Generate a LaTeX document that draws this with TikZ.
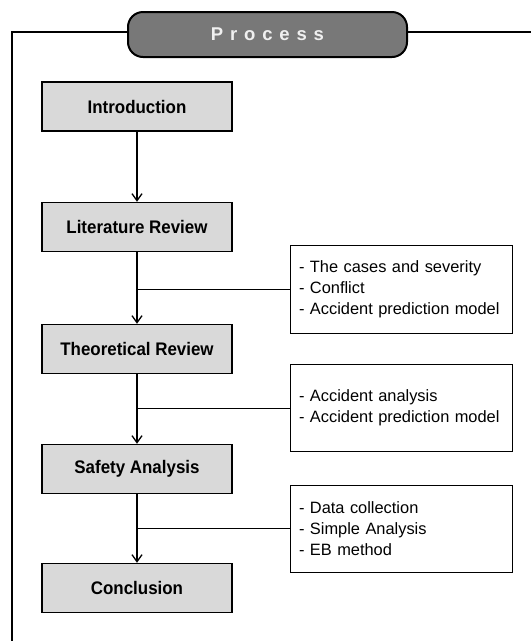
\documentclass[tikz,border=0pt]{standalone}
\usepackage{fontspec}
\usepackage{xcolor}
\setmainfont{Liberation Sans}
\newfontfamily\titlefont[LetterSpace=37]{Liberation Sans}
\newfontfamily\stagefont[FakeStretch=0.93]{Liberation Sans}
\usetikzlibrary{arrows.meta}
\definecolor{boxgray}{HTML}{D9D9D9}
\definecolor{titlegray}{HTML}{787878}
\tikzset{
  stagebox/.style={draw,line width=1.5pt,fill=boxgray,minimum width=190pt,minimum height=49pt,
    font=\stagefont\fontsize{18.2}{20}\selectfont\bfseries},
  notebox/.style={draw,line width=0.9pt,minimum width=222pt,minimum height=87pt,inner xsep=9pt,
    text width=204pt,align=left,font=\fontsize{16.4}{21}\selectfont},
  flow/.style={line width=1.3pt,-{Straight Barb[length=7pt,width=10pt,line width=1.3pt]}},
  tie/.style={line width=0.9pt}
}

\begin{document}
\begin{tikzpicture}[x=1pt,y=-1pt]
        \useasboundingbox (0,0) rectangle (531,641);
        % Frame
        \node[draw,line width=2pt,fill=titlegray,rounded corners=15pt,minimum width=279pt,minimum height=45pt,
          text=white!94!black,font=\titlefont\fontsize{18.5}{20}\selectfont\bfseries] (title) at (267.5,34.5) {Process};
        \coordinate (fbot) at (12,641);
        \coordinate (fright) at (531,32);
        \draw[line width=2pt] (title.west |- fright) -- (12,32) -- (fbot);
        \draw[line width=2pt] (title.east |- fright) -- (fright);
        % Stages
        \node[stagebox] (intro) at (137,106.5) {Introduction};
        \node[stagebox] (lit) at (137,227) {Literature Review};
        \node[stagebox] (theory) at (137,349) {Theoretical Review};
        \node[stagebox] (safety) at (137,469) {Safety Analysis};
        \node[stagebox] (concl) at (137,588) {Conclusion};
        % Notes
        \node[notebox,minimum height=88pt] (note1) at (401,289) {- The cases and severity\\- Conflict\\- Accident prediction model};
        \node[notebox] (note2) at (401,408) {- Accident analysis\\- Accident prediction model};
        \node[notebox] (note3) at (401,528.5) {- Data collection\\- Simple Analysis\\- EB method};
        % Arrows
        \draw[flow] (intro) -- (lit);
        \draw[flow] (lit) -- (theory);
        \draw[flow] (theory) -- (safety);
        \draw[flow] (safety) -- (concl);
        \draw[tie] (note1.west) -- (note1.west -| lit.south);
        \draw[tie] (note2.west) -- (note2.west -| theory.south);
        \draw[tie] (note3.west) -- (note3.west -| safety.south);
    \end{tikzpicture}
\end{document}
